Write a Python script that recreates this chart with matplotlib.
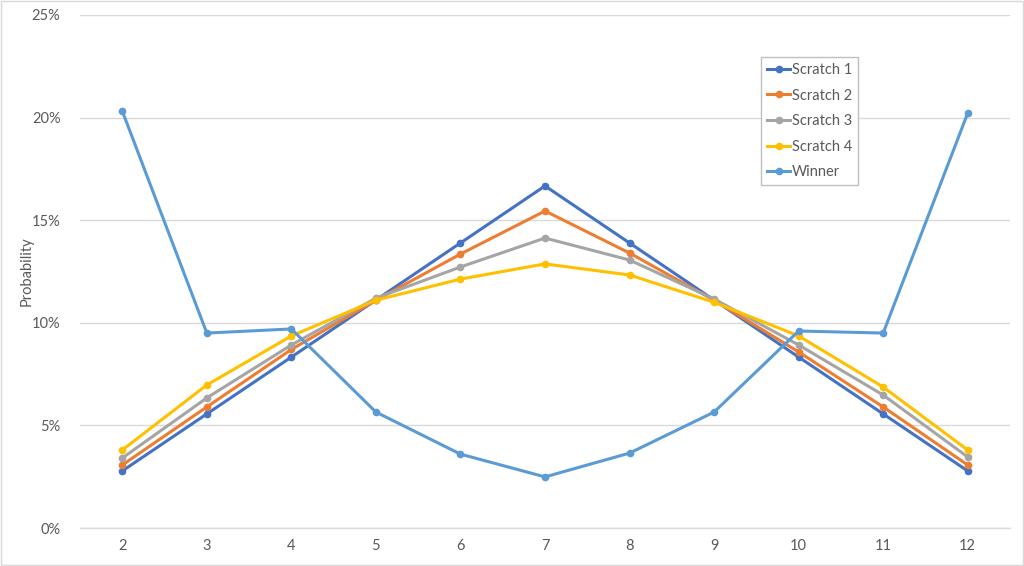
import matplotlib
matplotlib.use("Agg")
import matplotlib.pyplot as plt
from matplotlib.ticker import FuncFormatter
from matplotlib.patches import Rectangle

categories = [2, 3, 4, 5, 6, 7, 8, 9, 10, 11, 12]
scratch1 = [2.78, 5.56, 8.33, 11.11, 13.89, 16.67, 13.89, 11.11, 8.33, 5.56, 2.78]
scratch2 = [3.07, 5.90, 8.70, 11.10, 13.35, 15.45, 13.40, 11.10, 8.58, 5.90, 3.07]
scratch3 = [3.41, 6.34, 8.92, 11.20, 12.72, 14.13, 13.06, 11.16, 8.92, 6.48, 3.46]
scratch4 = [3.80, 6.97, 9.36, 11.10, 12.13, 12.87, 12.33, 11.00, 9.36, 6.87, 3.80]
winner = [20.32, 9.50, 9.70, 5.65, 3.60, 2.49, 3.65, 5.65, 9.60, 9.50, 20.22]
series_names = ["Scratch 1", "Scratch 2", "Scratch 3", "Scratch 4", "Winner"]
series_colors = ["#4472C4", "#ED7D31", "#A5A5A5", "#FFC000", "#5B9BD5"]

plt.rcParams['font.family'] = ['Lato', 'DejaVu Sans']

fig = plt.figure(figsize=(10.24, 5.66), dpi=100)
ax = fig.add_axes([80/1024, 38/566, 930/1024, 513/566])

for name, vals, col in zip(series_names, [scratch1, scratch2, scratch3, scratch4, winner], series_colors):
    ax.plot(categories, [v/100 for v in vals], color=col, lw=2.2, marker='o', ms=4.5,
            label=name, solid_joinstyle='round', zorder=3)

ax.set_xlim(1.5, 12.5)
ax.set_ylim(0, 0.25)
ax.set_xticks(categories)
ax.set_yticks([0, 0.05, 0.10, 0.15, 0.20, 0.25])
ax.yaxis.set_major_formatter(FuncFormatter(lambda v, p: f"{v*100:.0f}%"))
ax.grid(axis='y', color='#D9D9D9', lw=1)
ax.set_axisbelow(True)
for s in ['top', 'right', 'left']:
    ax.spines[s].set_visible(False)
ax.spines['bottom'].set_color('#D9D9D9')
ax.spines['bottom'].set_linewidth(1)
ax.tick_params(axis='both', length=0, colors='#595959', labelsize=10.5)
ax.tick_params(axis='y', pad=14)
ax.tick_params(axis='x', pad=8)
ax.set_ylabel("Probability", color='#595959', fontsize=10.5)
ax.yaxis.set_label_coords(-46/930, 0.5)

leg = fig.legend(loc='upper left', bbox_to_anchor=(761/1024, 1-57/566), fontsize=10.5,
                 frameon=True, fancybox=False, edgecolor='#BFBFBF', framealpha=1,
                 handlelength=1.6, handletextpad=0.1, borderpad=0.4, labelspacing=0.8,
                 borderaxespad=0)
for t in leg.get_texts():
    t.set_color('#595959')
leg.get_frame().set_linewidth(1)

fig.patches.append(Rectangle((0.001, 0.001), 0.998, 0.998, transform=fig.transFigure,
                             fill=False, edgecolor='#D9D9D9', lw=1))

fig.savefig("out.png", dpi=100)
